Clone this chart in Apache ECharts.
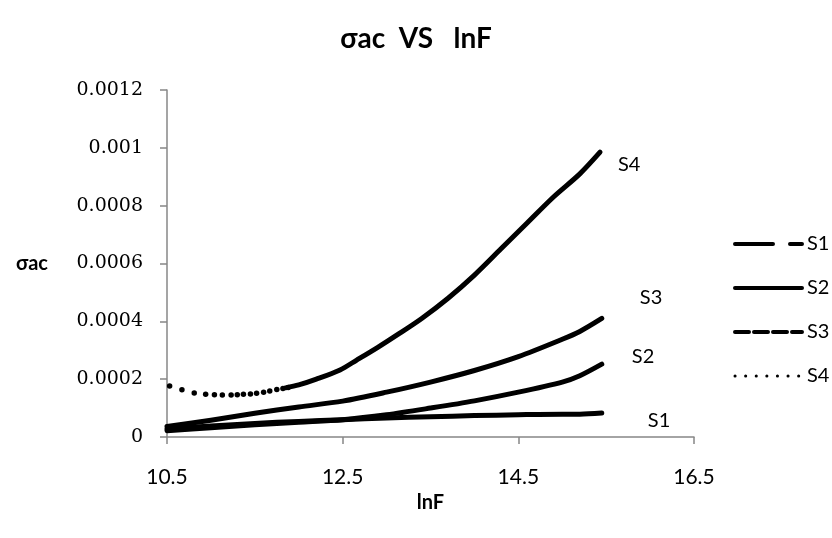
<!DOCTYPE html>
<html><head><meta charset="utf-8">
<script src="https://cdn.jsdelivr.net/npm/echarts@6/dist/echarts.min.js"></script>
<style>html,body{margin:0;padding:0;background:#fff}#c{width:832px;height:538px}</style>
</head><body><div id="c"></div>
<script>
const titleText = 'σac  VS   lnF';
const xName = 'lnF';
const yName = 'σac';
const xTicks = [10.5, 12.5, 14.5, 16.5];
const yTicks = [0, 0.0002, 0.0004, 0.0006, 0.0008, 0.001, 0.0012];
const seriesNames = ['S1', 'S2', 'S3', 'S4'];

const s1X = [10.5, 11.0, 11.5, 12.0, 12.5, 13.0, 13.5, 14.0, 14.5, 15.0, 15.2, 15.45];
const s1Y = [0.000028, 0.000038, 0.000047, 0.000054, 0.00006, 0.000066, 0.00007, 0.000074, 0.000077, 0.000079, 0.000079, 0.000083];

const s2X = [10.5, 11.0, 11.5, 12.0, 12.5, 13.0, 13.5, 14.0, 14.5, 15.0, 15.2, 15.45];
const s2Y = [0.000022, 0.000032, 0.000042, 0.000051, 0.00006, 0.000077, 0.0001, 0.000125, 0.000155, 0.00019, 0.000212, 0.000252];

const s3X = [10.5, 11.0, 11.5, 12.0, 12.5, 13.0, 13.5, 14.0, 14.5, 15.0, 15.2, 15.45];
const s3Y = [0.000036, 0.000058, 0.000082, 0.000104, 0.000124, 0.000155, 0.00019, 0.00023, 0.000278, 0.000338, 0.000365, 0.00041];

// S4, sparse low-frequency points (drawn as separate dots)
const s4DotX = [10.53, 10.67, 10.81, 10.94, 11.04, 11.13, 11.23, 11.30, 11.37, 11.45, 11.52, 11.60, 11.67, 11.75, 11.82, 11.88];
const s4DotY = [0.000176, 0.000163, 0.000152, 0.000148, 0.000146, 0.000145, 0.000145, 0.000146, 0.000148, 0.000149, 0.000151, 0.000155, 0.000159, 0.000164, 0.000168, 0.000171];
// S4, dense points (appear as continuous line)
const s4X = [11.85, 12.0, 12.2, 12.47, 12.66, 12.9, 13.12, 13.4, 13.7, 14.0, 14.3, 14.6, 14.9, 15.2, 15.43];
const s4Y = [0.00017, 0.00018, 0.0002, 0.000232, 0.000266, 0.00031, 0.000353, 0.00041, 0.00048, 0.00056, 0.00065, 0.00074, 0.00083, 0.00091, 0.000985];

const zip = (xs, ys) => xs.map((x, i) => [x, ys[i]]);
const SANS = 'Lato';
const SERIF = 'DejaVu Serif';
const GRAY = '#878787';

function lineSeries(name, xs, ys, labelOffset) {
  return {
    name, type: 'line', data: zip(xs, ys), showSymbol: false, symbol: 'none', smooth: 0.3,
    lineStyle: { color: '#000', width: 5, cap: 'round', join: 'round' },
    itemStyle: { color: '#000' },
    emphasis: { disabled: true },
    endLabel: { show: true, formatter: name, offset: labelOffset, color: '#000', fontFamily: SANS, fontSize: 20 },
    z: 3
  };
}

const chart = echarts.init(document.getElementById('c'), null, { renderer: 'canvas' });
chart.setOption({
  animation: false,
  backgroundColor: '#fff',
  title: {
    text: titleText, left: 'center', top: 20,
    textStyle: { fontFamily: SANS, fontWeight: 'bold', fontSize: 28, color: '#000' }
  },
  grid: { left: 167, right: 138, top: 90, bottom: 101, containLabel: false },
  legend: {
    orient: 'vertical', left: 733, top: 234, padding: 0, itemWidth: 67, itemHeight: 12, itemGap: 24,
    textStyle: { fontFamily: SANS, fontSize: 20, color: '#000' },
    data: [
      { name: 'S1', itemStyle: { color: 'rgba(0,0,0,0)', borderWidth: 0 }, lineStyle: { color: '#000', width: 4, type: [38, 17], cap: 'round', opacity: 1 } },
      { name: 'S2', itemStyle: { color: 'rgba(0,0,0,0)', borderWidth: 0 }, lineStyle: { color: '#000', width: 4, type: 'solid', cap: 'round', opacity: 1 } },
      { name: 'S3', itemStyle: { color: 'rgba(0,0,0,0)', borderWidth: 0 }, lineStyle: { color: '#000', width: 4, type: [14, 5], cap: 'round', opacity: 1 } },
      { name: 'S4', itemStyle: { color: 'rgba(0,0,0,0)', borderWidth: 0 }, lineStyle: { color: '#000', width: 3, type: [0.1, 10.5], cap: 'round', opacity: 1 } }
    ],
    selectedMode: false
  },
  xAxis: {
    type: 'value', min: 10.5, max: 16.5,
    name: xName, nameLocation: 'middle', nameGap: 56,
    nameTextStyle: { fontFamily: SANS, fontWeight: 'bold', fontSize: 20, color: '#000' },
    axisLine: { show: true, onZero: false, lineStyle: { color: GRAY, width: 1.5 } },
    axisTick: { show: true, inside: false, length: 7, customValues: xTicks, lineStyle: { color: GRAY, width: 1.5 } },
    axisLabel: { customValues: xTicks, margin: 30, fontFamily: SANS, fontSize: 21, color: '#000' },
    splitLine: { show: false }
  },
  yAxis: {
    type: 'value', min: 0, max: 0.0012,
    name: yName, nameLocation: 'middle', nameRotate: 0, nameGap: 119,
    nameTextStyle: { fontFamily: SANS, fontWeight: 'bold', fontSize: 20, color: '#000' },
    axisLine: { show: true, lineStyle: { color: GRAY, width: 1.5 } },
    axisTick: { show: true, inside: false, length: 7, customValues: yTicks, lineStyle: { color: GRAY, width: 1.5 } },
    axisLabel: { customValues: yTicks, margin: 24, fontFamily: SERIF, fontSize: 19, color: '#000', formatter: v => String(v) },
    splitLine: { show: false }
  },
  series: [
    lineSeries('S1', s1X, s1Y, [38, 8]),
    lineSeries('S2', s2X, s2Y, [22, -8]),
    lineSeries('S3', s3X, s3Y, [30, -21]),
    {
      name: 'S4', type: 'line', data: zip(s4DotX, s4DotY),
      symbol: 'circle', symbolSize: 5.5, showSymbol: true, showAllSymbol: true,
      lineStyle: { opacity: 0 }, itemStyle: { color: '#000' },
      emphasis: { disabled: true }, z: 3
    },
    lineSeries('S4', s4X, s4Y, [10, 12])
  ]
});
</script>
</body></html>
